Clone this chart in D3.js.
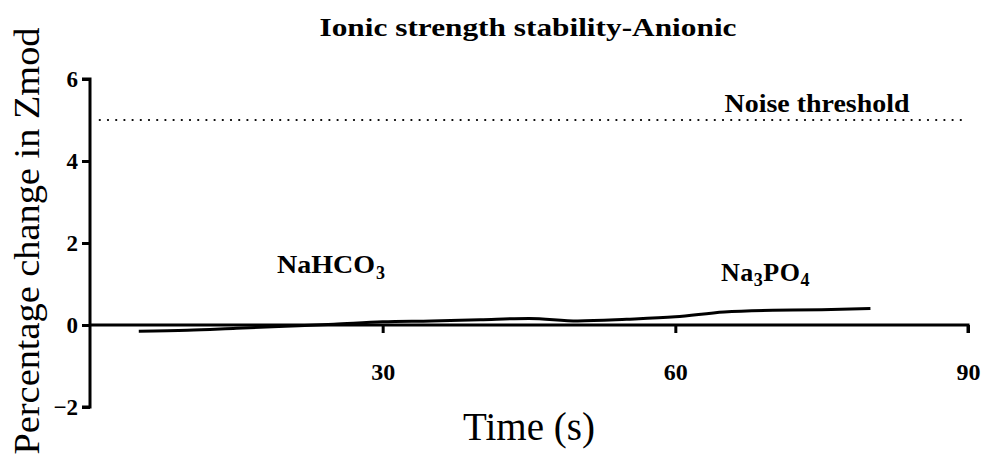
<!DOCTYPE html>
<html><head><meta charset="utf-8">
<script src="https://cdn.jsdelivr.net/npm/d3@7"></script>
<style>
html,body{margin:0;padding:0;background:#fff;}
svg{display:block;font-family:"Liberation Serif","Times New Roman",serif;}
</style></head>
<body>
<svg id="chart" width="981" height="459"></svg>
<script>
const timeS = [5, 10, 15, 20, 25, 30, 35, 40, 45, 50, 55, 60, 65, 70, 75, 80];
const pctChange = [-0.15, -0.13, -0.08, -0.03, 0.02, 0.08, 0.10, 0.13, 0.16, 0.10, 0.14, 0.20, 0.32, 0.36, 0.37, 0.40];
const noiseThreshold = 5;
const xTicks = [30, 60, 90];
const yTicks = [-2, 0, 2, 4, 6];
const titleText = "Ionic strength stability-Anionic";
const xTitle = "Time (s)";
const yTitle = "Percentage change in Zmod";

const svg = d3.select("#chart");
const x = d3.scaleLinear().domain([0, 90]).range([90, 968]);
const y = d3.scaleLinear().domain([-2, 6]).range([407, 79]);

// title
svg.append("text").attr("x", 528).attr("y", 36).attr("text-anchor", "middle")
  .attr("font-size", 26).attr("font-weight", "bold")
  .attr("textLength", 417).attr("lengthAdjust", "spacingAndGlyphs").text(titleText);

// noise threshold
svg.append("line").attr("x1", x(1)).attr("x2", x(89.7))
  .attr("y1", y(noiseThreshold)).attr("y2", y(noiseThreshold))
  .attr("stroke", "#000").attr("stroke-width", 2.2)
  .attr("stroke-dasharray", "0.1 8.1").attr("stroke-linecap", "round");
svg.append("text").attr("x", 817).attr("y", 112).attr("text-anchor", "middle")
  .attr("font-size", 26).attr("font-weight", "bold")
  .attr("textLength", 185).attr("lengthAdjust", "spacingAndGlyphs").text("Noise threshold");

// y axis
const yAxis = svg.append("g").attr("transform", `translate(${x(0)},0)`)
  .call(d3.axisLeft(y).tickValues(yTicks).tickSize(8).tickPadding(4).tickFormat(d3.format("d")));
yAxis.select(".domain").attr("stroke-width", 3).attr("d", `M-8,${y(6)}H0V${y(-2)}H-8`);
yAxis.selectAll(".tick line").attr("stroke-width", 3);
yAxis.selectAll(".tick text").attr("font-size", 23).attr("font-weight", "bold")
  .attr("font-family", "Liberation Serif, serif").attr("fill", "#000");

// x axis at y=0
const xAxis = svg.append("g").attr("transform", `translate(0,${y(0)})`)
  .call(d3.axisBottom(x).tickValues(xTicks).tickSize(8).tickPadding(30).tickFormat(d3.format("d")));
xAxis.select(".domain").attr("stroke-width", 3).attr("d", `M${x(0)},0H${x(90)}V8`);
xAxis.selectAll(".tick line").attr("stroke-width", 3);
xAxis.selectAll(".tick text").attr("font-size", 24).attr("font-weight", "bold")
  .attr("font-family", "Liberation Serif, serif").attr("fill", "#000");

// data line
const line = d3.line().x((d, i) => x(timeS[i])).y(d => y(d)).curve(d3.curveMonotoneX);
svg.append("path").datum(pctChange).attr("d", line)
  .attr("fill", "none").attr("stroke", "#000").attr("stroke-width", 3);

// labels
const l1 = svg.append("text").attr("x", 277).attr("y", 273).attr("font-size", 25).attr("font-weight", "bold");
l1.append("tspan").attr("textLength", 98).attr("lengthAdjust", "spacingAndGlyphs").text("NaHCO");
l1.append("tspan").attr("dx", 1).attr("dy", 6).attr("font-size", 18).text("3");
const l2 = svg.append("text").attr("x", 721).attr("y", 281).attr("font-size", 26).attr("font-weight", "bold")
  .attr("letter-spacing", 0.5);
l2.append("tspan").text("Na");
l2.append("tspan").attr("dy", 5).attr("font-size", 18).text("3");
l2.append("tspan").attr("dy", -5).text("PO");
l2.append("tspan").attr("dy", 5).attr("font-size", 18).text("4");

// axis titles
svg.append("text").attr("x", 529).attr("y", 440).attr("text-anchor", "middle")
  .attr("font-size", 39).text(xTitle);
svg.append("text").attr("transform", "translate(39,241) rotate(-90)").attr("text-anchor", "middle")
  .attr("font-size", 35).attr("textLength", 427).attr("lengthAdjust", "spacingAndGlyphs").text(yTitle);
</script>
</body></html>
